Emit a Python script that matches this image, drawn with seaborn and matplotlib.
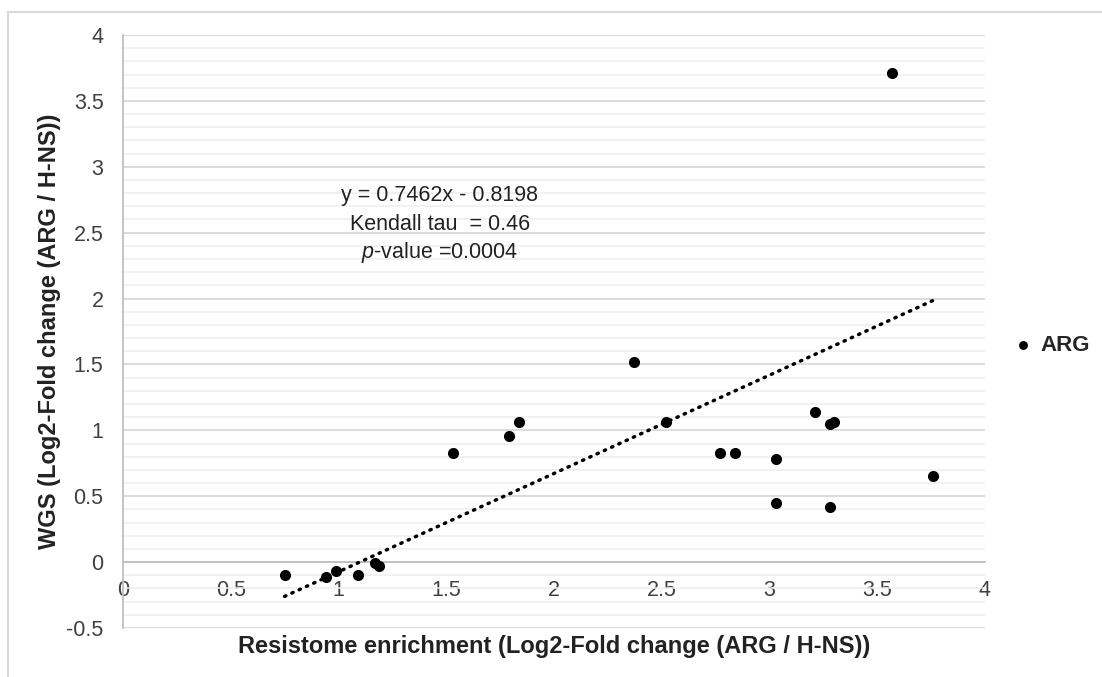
import numpy as np
import pandas as pd
import matplotlib
matplotlib.use("Agg")
import matplotlib.pyplot as plt
from matplotlib.ticker import MultipleLocator
from matplotlib.patches import Rectangle
import seaborn as sns

# ─── DATA ─────────────────────────────────────────────────────────────────────
resistome = [0.75, 0.94, 0.99, 1.09, 1.17, 1.19, 1.53, 1.79, 1.84, 2.37,
             2.52, 2.77, 2.84, 3.03, 3.03, 3.21, 3.28, 3.30, 3.28, 3.57, 3.76]
wgs = [-0.10, -0.11, -0.07, -0.10, -0.01, -0.03, 0.83, 0.96, 1.06, 1.52,
       1.06, 0.83, 0.83, 0.78, 0.45, 1.14, 1.05, 1.06, 0.42, 3.71, 0.65]
slope, intercept = 0.7462, -0.8198
stats_lines = ["y = 0.7462x - 0.8198", "Kendall tau  = 0.46", r"$\it{p}$-value =0.0004"]
x_ticklabels = ["0", "0.5", "1", "1.5", "2", "2.5", "3", "3.5", "4"]
y_ticklabels = ["-0.5", "0", "0.5", "1", "1.5", "2", "2.5", "3", "3.5", "4"]

df = pd.DataFrame({"resistome": resistome, "wgs": wgs})

# ─── STYLE ────────────────────────────────────────────────────────────────────
sns.set_style("white")
plt.rcParams["font.family"] = ["Liberation Sans", "DejaVu Sans"]
plt.rcParams["mathtext.fontset"] = "custom"
plt.rcParams["mathtext.it"] = "Liberation Sans:italic"
plt.rcParams["mathtext.rm"] = "Liberation Sans"

fig = plt.figure(figsize=(11.02, 6.77), dpi=100)
ax = fig.add_axes([0.1116, 0.0724, 0.7822, 0.8759])

# outer chart frame
fig.patches.append(Rectangle((8 / 1102, -0.1), 1.2, 1 - 12 / 677 + 0.1,
                             transform=fig.transFigure, fill=False,
                             edgecolor="#d9d9d9", linewidth=1.5))

sns.scatterplot(data=df, x="resistome", y="wgs", color="black", s=64,
                edgecolor="black", linewidth=0, label="ARG", ax=ax, zorder=4)

# linear trendline
xs = np.array([min(resistome), max(resistome)])
ax.plot(xs, slope * xs + intercept, color="black", linewidth=2.5,
        linestyle=(0, (0.4, 1.9)), dash_capstyle="round", zorder=3)

ax.set_xlim(0, 4)
ax.set_ylim(-0.5, 4)
ax.yaxis.set_minor_locator(MultipleLocator(0.1))
ax.set_xticks(np.arange(0, 4.01, 0.5))
ax.set_xticklabels(x_ticklabels)
ax.set_yticks(np.arange(-0.5, 4.01, 0.5))
ax.set_yticklabels(y_ticklabels)

ax.grid(axis="y", which="major", color="#d9d9d9", linewidth=1.3, zorder=0)
ax.grid(axis="y", which="minor", color="#eeeeee", linewidth=1.1, zorder=0)
ax.grid(axis="x", visible=False)
ax.set_axisbelow(True)

for side in ["top", "right"]:
    ax.spines[side].set_visible(False)
ax.spines["left"].set_color("#bfbfbf")
ax.spines["left"].set_linewidth(1.3)
ax.spines["bottom"].set_position(("data", 0))
ax.spines["bottom"].set_color("#bfbfbf")
ax.spines["bottom"].set_linewidth(1.3)

ax.tick_params(axis="both", which="major", labelsize=15.5, colors="#bfbfbf",
               labelcolor="#404040", length=5, width=1.3, direction="out")
ax.tick_params(axis="y", which="minor", length=0)
ax.tick_params(axis="y", pad=9)
ax.tick_params(axis="x", pad=8)

ax.set_xlabel("Resistome enrichment (Log2-Fold change (ARG / H-NS))",
              fontsize=17, fontweight="bold", color="#222222")
ax.xaxis.set_label_coords(0.5, -0.012)
ax.set_ylabel("WGS (Log2-Fold change (ARG / H-NS))",
              fontsize=17, fontweight="bold", color="#222222")
ax.yaxis.set_label_coords(-0.072, 0.5)

for i, line in enumerate(stats_lines):
    ax.text(1.47, 2.78 - i * 0.215, line, ha="center", va="center",
            fontsize=15.5, color="#222222")

leg = ax.legend(loc="center left", bbox_to_anchor=(1.0, 0.477), frameon=False,
                handletextpad=0.0, markerscale=0.8, handlelength=1.6,
                prop={"weight": "bold", "size": 16})

fig.savefig("out.png", dpi=100)
